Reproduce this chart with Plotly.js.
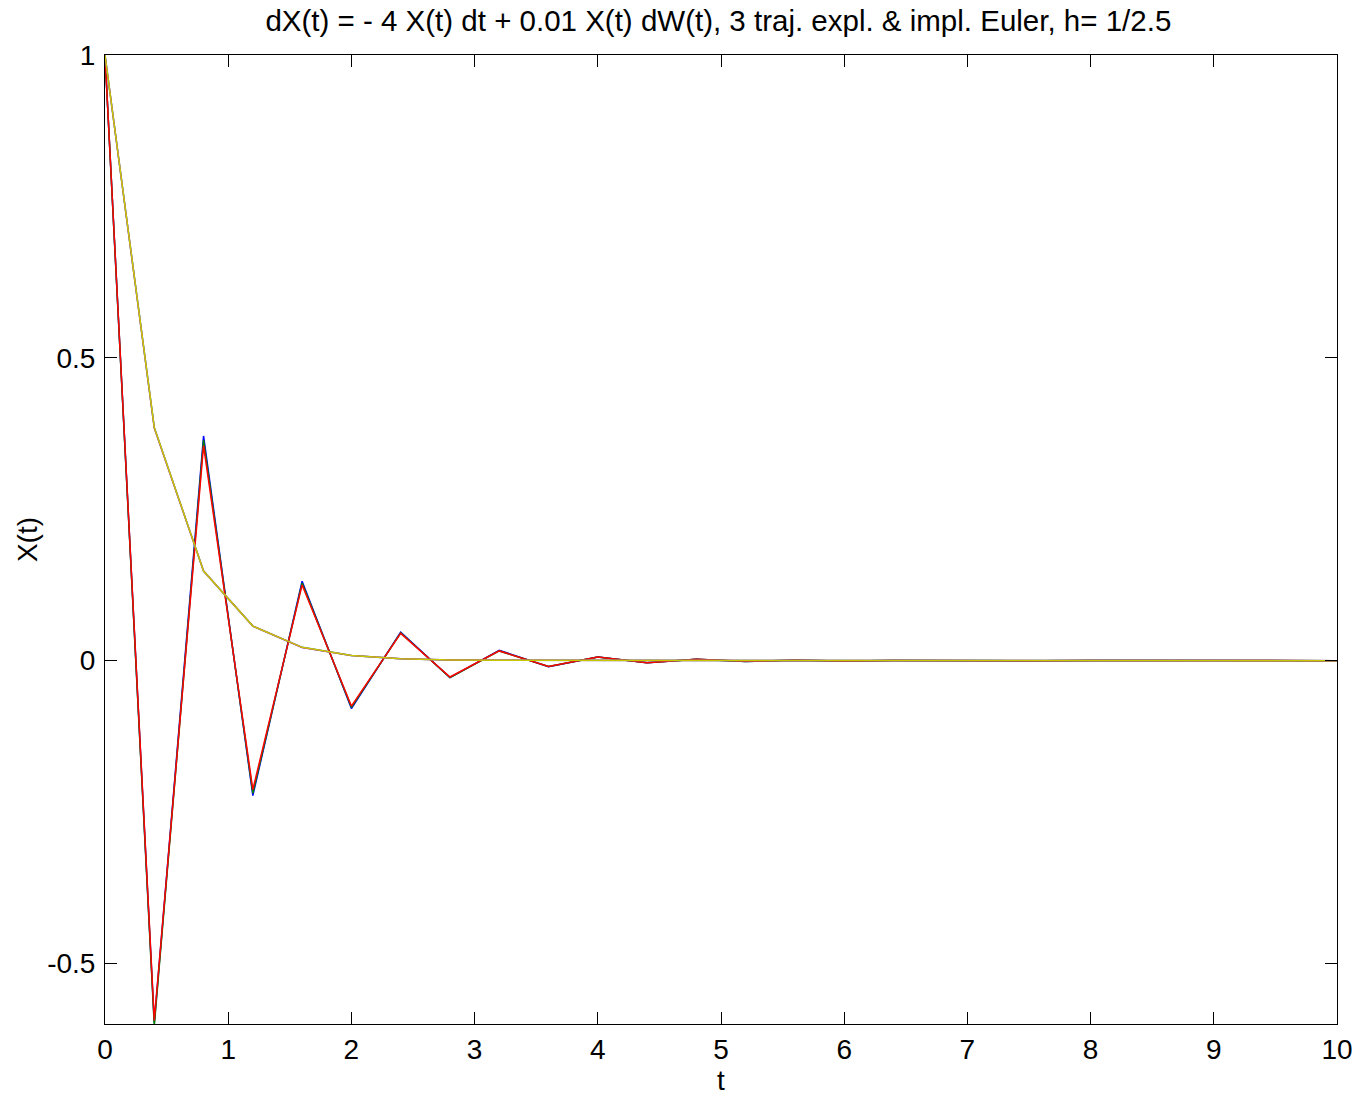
<!DOCTYPE html>
<html>
<head>
<meta charset="utf-8">
<script src="https://cdn.plot.ly/plotly-3.0.1.min.js"></script>
<style>html,body{margin:0;padding:0;background:#fff}#chart{width:1358px;height:1099px}</style>
</head>
<body>
<div id="chart"></div>
<script>
const t = [0,0.4,0.8,1.2,1.6,2,2.4,2.8,3.2,3.6,4,4.4,4.8,5.2,5.6,6,6.4,6.8,7.2,7.6,8,8.4,8.8,9.2,9.6,10];

const explBlue  = [1,-0.598,0.371,-0.223,0.131,-0.079,0.047,-0.028,0.017,-0.010,0.006,-0.0036,0.0022,-0.0013,0.0008,-0.0005,0.0003,-0.0002,0.0001,-0.00007,0.00004,-0.00002,0.00001,-0.000008,0.000005,-0.000003];
const explGreen = [1,-0.603,0.364,-0.219,0.128,-0.077,0.046,-0.028,0.016,-0.0098,0.0059,-0.0035,0.0021,-0.0013,0.0008,-0.00046,0.00028,-0.00017,0.0001,-0.00006,0.00004,-0.00002,0.00001,-0.000008,0.000005,-0.000003];
const explRed   = [1,-0.594,0.355,-0.213,0.125,-0.075,0.045,-0.027,0.016,-0.0097,0.0058,-0.0035,0.0021,-0.0012,0.0007,-0.00045,0.00027,-0.00016,0.0001,-0.00006,0.00003,-0.00002,0.00001,-0.000007,0.000004,-0.000003];
const implCyan    = [1,0.385,0.148,0.057,0.0219,0.0084,0.0032,0.0012,0.00048,0.00018,0.00007,0.00003,0.00001,0.000004,0.000002,0.0000006,0.0000002,0.0000001,0,0,0,0,0,0,0,0];
const implMagenta = [1,0.384,0.148,0.057,0.0218,0.0084,0.0032,0.0012,0.00048,0.00018,0.00007,0.00003,0.00001,0.000004,0.000002,0.0000006,0.0000002,0.0000001,0,0,0,0,0,0,0,0];
const implYellow  = [1,0.385,0.148,0.057,0.0219,0.0084,0.0032,0.0012,0.00048,0.00018,0.00007,0.00003,0.00001,0.000004,0.000002,0.0000006,0.0000002,0.0000001,0,0,0,0,0,0,0,0];

const series = [
  [explBlue, 'rgb(0,0,255)'],
  [explGreen, 'rgb(0,128,0)'],
  [explRed, 'rgb(255,0,0)'],
  [implCyan, 'rgb(0,191,191)'],
  [implMagenta, 'rgb(191,0,191)'],
  [implYellow, 'rgb(200,200,0)']
];

const data = series.map(([y, c]) => ({
  x: t, y: y, type: 'scatter', mode: 'lines',
  line: {color: c, width: 1.5}, hoverinfo: 'skip', showlegend: false
}));

const fam = 'Liberation Sans, Arial, sans-serif';
const tickFont = {family: fam, size: 28, color: '#000'};
const titleFont = {family: fam, size: 29.5, color: '#000'};

const axisCommon = {
  showline: true, linecolor: '#000', linewidth: 1,
  mirror: 'ticks', ticks: 'inside', ticklen: 12, tickcolor: '#000',
  showgrid: false, zeroline: false, tickfont: tickFont
};

const layout = {
  width: 1358, height: 1099,
  margin: {l: 105, r: 21, t: 55, b: 75},
  paper_bgcolor: '#fff', plot_bgcolor: '#fff',
  font: tickFont,
  title: {text: 'dX(t) = - 4 X(t) dt + 0.01 X(t) dW(t), 3 traj. expl. & impl. Euler, h= 1/2.5',
          font: titleFont, x: 0.529, xanchor: 'center', y: 0.981, yanchor: 'middle', yref: 'container'},
  xaxis: Object.assign({}, axisCommon, {
    range: [0, 10], tickvals: [0,1,2,3,4,5,6,7,8,9,10], ticktext: ['0','1','2','3','4','5','6','7','8','9','10'],
    title: {text: 't', font: tickFont, standoff: 5}, ticklabelstandoff: 0
  }),
  yaxis: Object.assign({}, axisCommon, {
    range: [-0.6, 1], tickvals: [-0.5, 0, 0.5, 1], ticktext: ['-0.5','0','0.5','1'],
    title: {text: 'X(t)', font: tickFont, standoff: 1}, ticklabelstandoff: 3
  })
};

Plotly.newPlot('chart', data, layout, {staticPlot: true});
</script>
</body>
</html>
